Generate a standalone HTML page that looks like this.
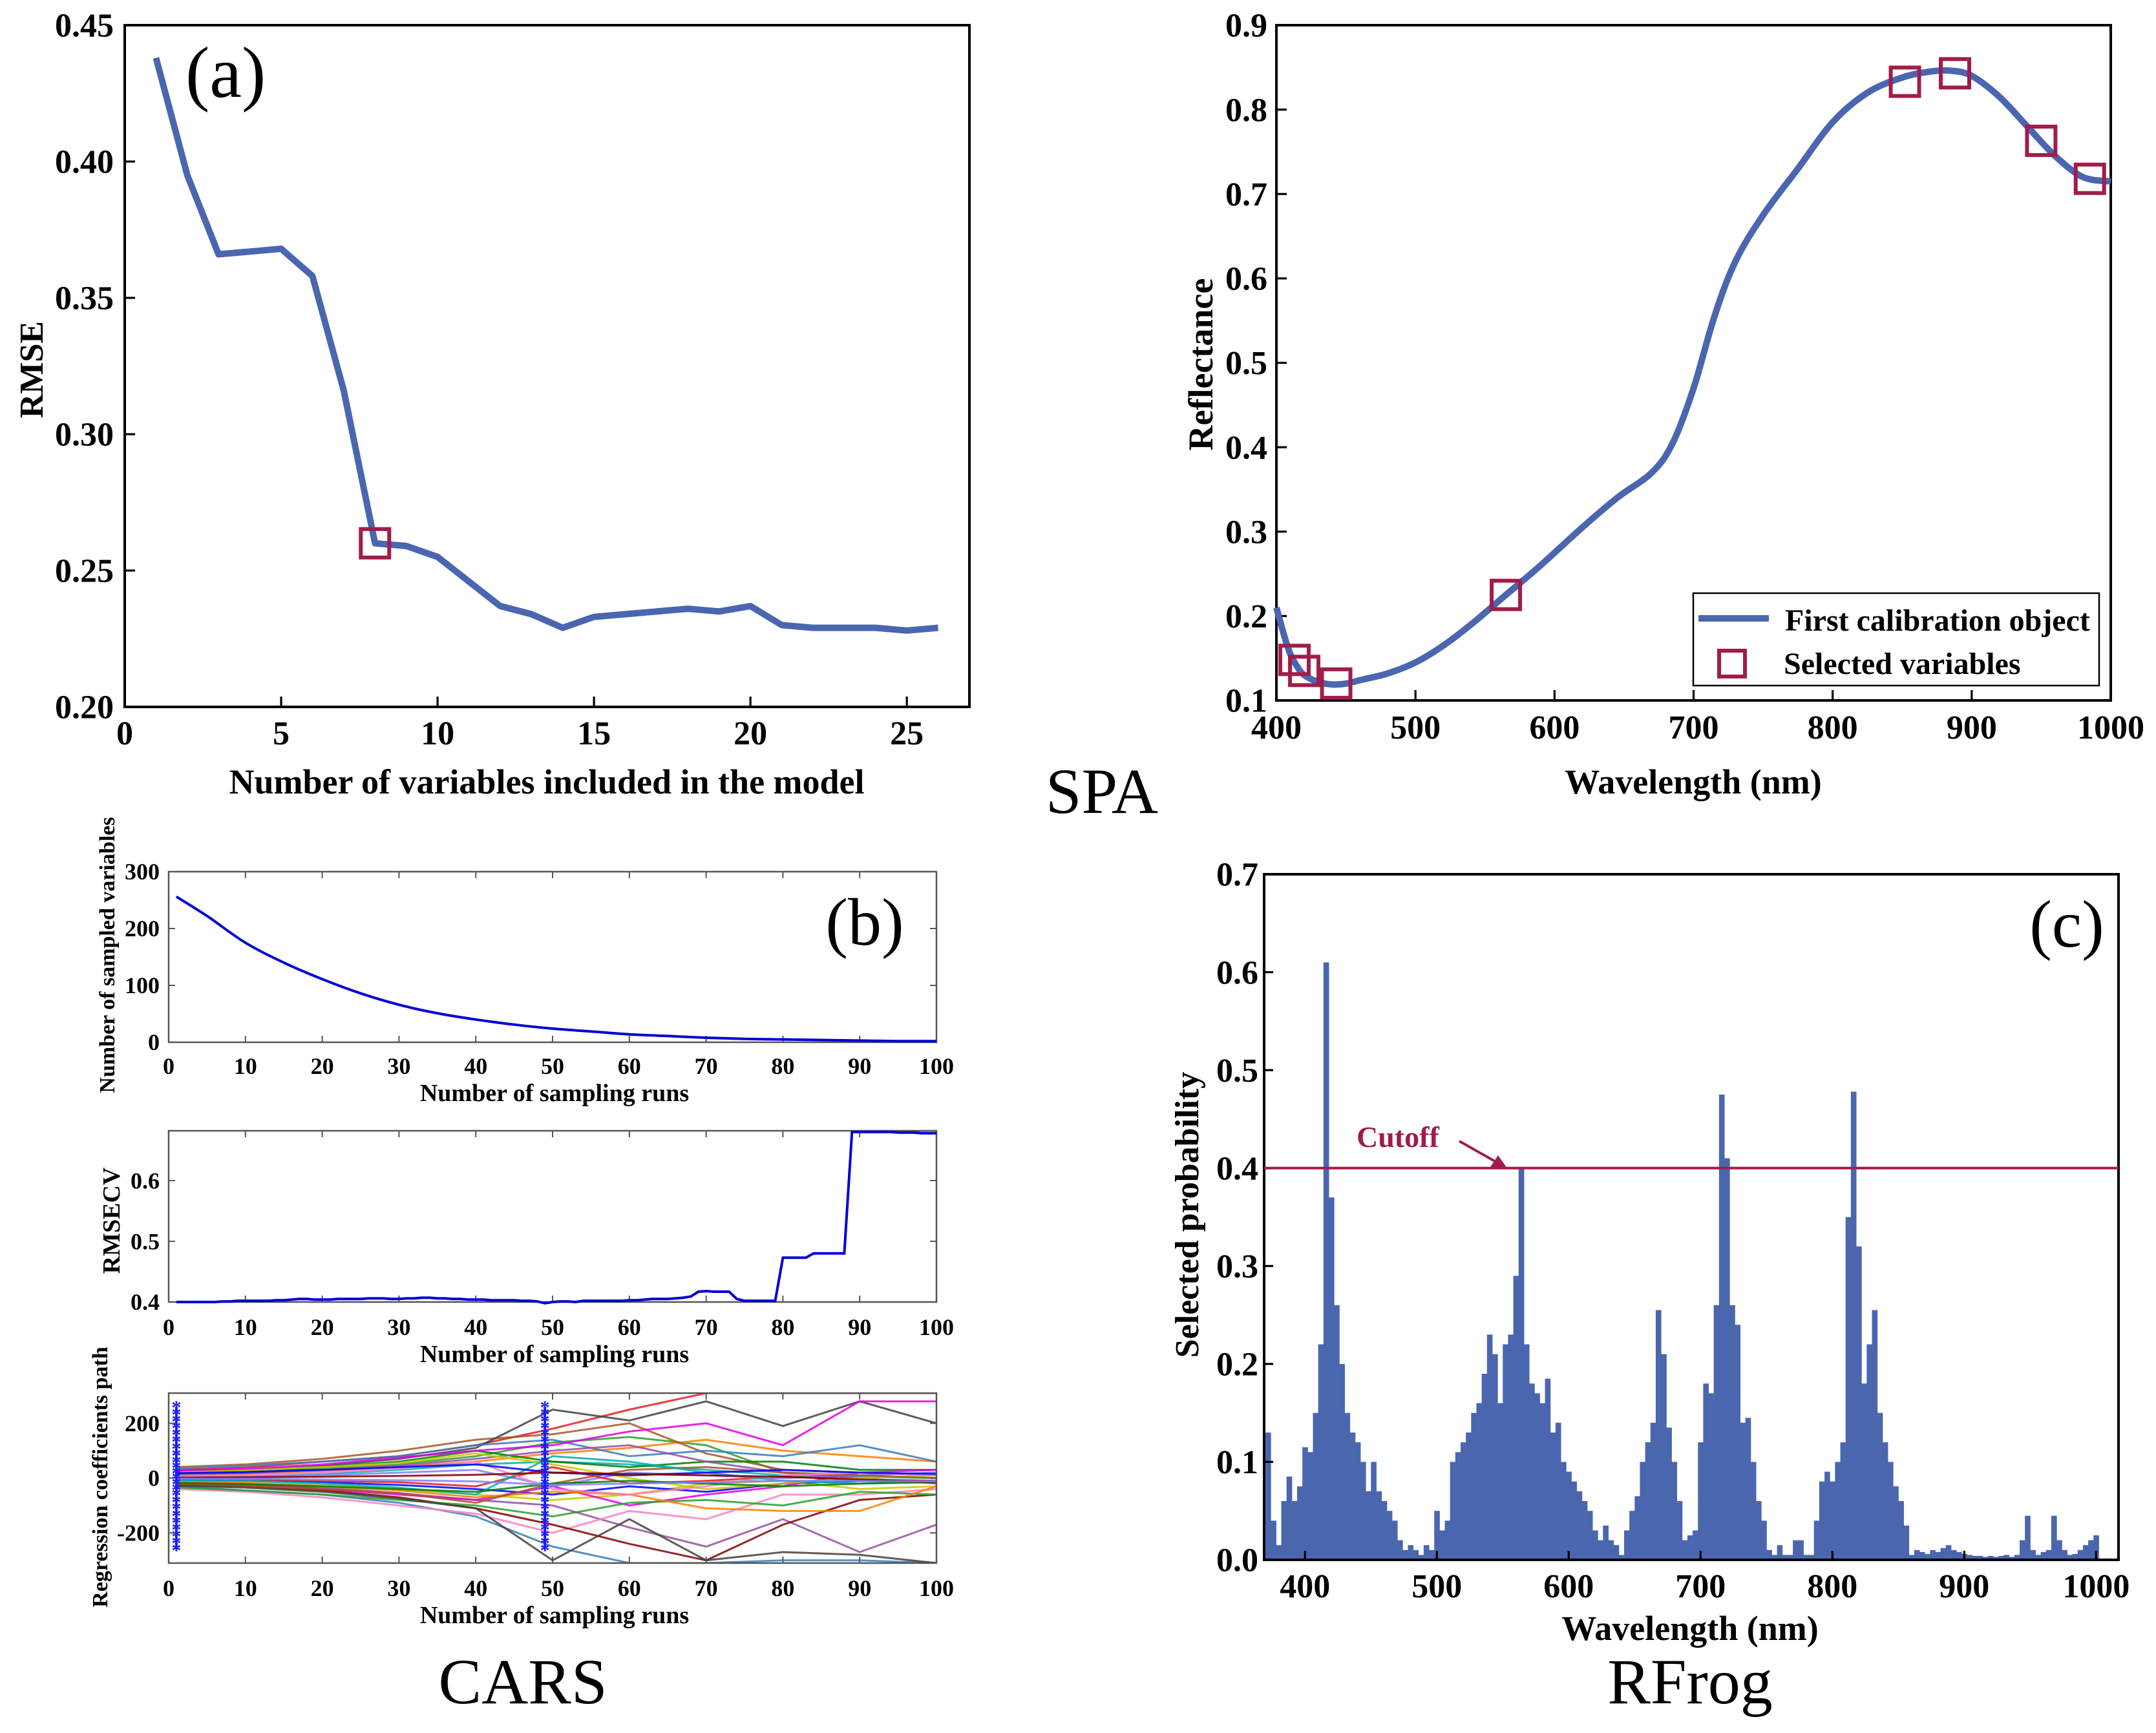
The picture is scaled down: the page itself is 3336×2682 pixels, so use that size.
<!DOCTYPE html>
<html><head><meta charset="utf-8"><style>
html,body{margin:0;padding:0;background:#fff;}
svg{display:block;font-family:"Liberation Serif",serif;}
text{font-family:"Liberation Serif",serif;}
</style></head><body>
<svg id="chart" xmlns="http://www.w3.org/2000/svg" width="3336" height="2682" viewBox="0 0 3336 2682">
<rect x="0" y="0" width="3336" height="2682" fill="#fff"/>
</svg>
<script>
// ---------- data ----------
const aX = [1,2,3,4,5,6,7,8,9,10,11,12,13,14,15,16,17,18,19,20,21,22,23,24,25,26];
const aRmse = [0.438,0.395,0.366,0.367,0.368,0.358,0.316,0.260,0.259,0.255,0.246,0.237,0.234,0.229,0.233,0.234,0.235,0.236,0.235,0.237,0.230,0.229,0.229,0.229,0.228,0.229];
const aSelX = [8];
const aSelY = [0.260];
const aXTicks = [0,5,10,15,20,25];
const aYTicks = [0.20,0.25,0.30,0.35,0.40,0.45];

const spaWl = [400,405,410,415,420,430,440,450,460,480,500,520,540,565,590,620,645,670,685,700,715,730,750,775,800,825,850,870,885,900,920,940,960,980,1000];
const spaRef = [0.21,0.18,0.155,0.14,0.13,0.122,0.119,0.12,0.124,0.132,0.145,0.165,0.19,0.225,0.26,0.305,0.34,0.37,0.405,0.47,0.555,0.62,0.675,0.73,0.785,0.82,0.838,0.845,0.846,0.84,0.815,0.78,0.745,0.72,0.715];
const spaSelWl = [413,420,443,565,852,888,950,985];
const spaSelRef = [0.148,0.135,0.12,0.225,0.833,0.843,0.763,0.718];
const spaXTicks = [400,500,600,700,800,900,1000];
const spaYTicks = [0.1,0.2,0.3,0.4,0.5,0.6,0.7,0.8,0.9];

const carsRunsN = [1,5,10,15,20,25,30,35,40,45,50,55,60,65,70,75,80,85,90,95,100];
const carsNVars = [256,222,175,140,111,86,66,51,40,31,24,19,14,11,8,6,5,4,3,2,2];
const carsRmsecv = [0.400,0.400,0.400,0.400,0.400,0.400,0.401,0.401,0.402,0.402,0.402,0.402,0.402,0.403,0.403,0.404,0.405,0.405,0.404,0.404,0.404,0.405,0.405,0.405,0.405,0.406,0.406,0.406,0.405,0.405,0.406,0.406,0.407,0.407,0.406,0.406,0.405,0.405,0.404,0.404,0.404,0.403,0.403,0.403,0.403,0.402,0.402,0.401,0.398,0.400,0.401,0.401,0.400,0.402,0.402,0.402,0.402,0.402,0.402,0.403,0.403,0.404,0.405,0.405,0.405,0.406,0.407,0.409,0.417,0.418,0.417,0.417,0.417,0.405,0.402,0.402,0.402,0.402,0.402,0.473,0.473,0.473,0.473,0.480,0.480,0.480,0.480,0.480,0.680,0.680,0.680,0.680,0.680,0.680,0.679,0.679,0.679,0.678,0.678,0.678];
const coefRuns = [1,10,20,30,40,50,60,70,80,90,100];
const coefPaths = [
 [30,40,60,80,120,180,250,310,310,310,310],
 [-30,-45,-60,-90,-140,-250,-310,-310,-300,-300,-310],
 [20,25,35,50,80,130,150,120,20,10,20],
 [-20,-25,-35,-55,-80,-100,-180,-250,-150,-270,-170],
 [10,15,25,40,60,90,110,140,100,80,60],
 [-10,-15,-25,-40,-60,-80,-60,-20,-10,-40,-30],
 [40,50,70,100,140,160,200,90,30,20,10],
 [-40,-50,-70,-100,-130,-200,-120,-150,-60,-60,-40],
 [5,8,15,30,50,60,50,30,10,5,0],
 [-5,-8,-15,-25,-40,-60,-30,-50,-20,-10,-10],
 [15,20,40,60,100,60,40,60,60,30,30],
 [-15,-20,-40,-60,-80,-30,-100,-60,-30,20,30],
 [25,30,45,70,110,250,210,280,190,280,200],
 [-25,-30,-45,-70,-110,-170,-240,-300,-170,-80,-60],
 [0,5,10,20,30,-30,20,10,0,10,20],
 [0,-5,-10,-15,-30,40,-20,-10,5,-5,-10],
 [35,45,60,80,120,140,80,100,80,120,60],
 [-35,-45,-60,-80,-100,-140,-90,-80,-100,-50,-60],
 [12,18,30,45,70,100,120,60,20,0,-20],
 [-12,-18,-30,-45,-70,-50,-60,-110,-120,-120,-30],
 [22,28,40,55,90,50,0,-40,-20,0,10],
 [-22,-28,-40,-55,-90,-20,30,40,20,10,0],
 [8,10,20,35,60,-40,-60,-30,10,20,10],
 [-8,-10,-20,-35,-60,80,60,20,-10,-20,-10],
 [18,22,30,40,50,20,10,20,30,20,15],
 [-18,-22,-30,-40,-50,-20,-10,-20,-30,-20,-15],
 [28,35,50,75,100,120,170,200,120,280,280],
 [-28,-35,-50,-75,-110,-300,-150,-300,-270,-280,-310],
 [2,3,5,8,12,20,15,10,5,-5,-15],
 [-2,-3,-5,-8,-12,-25,-20,-15,-10,-10,-12]
];
const coefStarRuns = [1,49];
const coefStarVals = [-260,-235,-210,-185,-160,-135,-110,-85,-60,-40,-20,0,20,40,60,85,110,135,160,185,210,235,260];
const carsXTicks = [0,10,20,30,40,50,60,70,80,90,100];
const carsY1Ticks = [0,100,200,300];
const carsY2Ticks = [0.4,0.5,0.6];
const carsY3Ticks = [-200,0,200];

const rfWl = [370,374,378,382,386,390,394,398,402,406,410,414,418,422,426,430,434,438,442,446,450,454,458,462,466,470,474,478,482,486,490,494,498,502,506,510,514,518,522,526,530,534,538,542,546,550,554,558,562,566,570,574,578,582,586,590,594,598,602,606,610,614,618,622,626,630,634,638,642,646,650,654,658,662,666,670,674,678,682,686,690,694,698,702,706,710,714,718,722,726,730,734,738,742,746,750,754,758,762,766,770,774,778,782,786,790,794,798,802,806,810,814,818,822,826,830,834,838,842,846,850,854,858,862,866,870,874,878,882,886,890,894,898,902,906,910,914,918,922,926,930,934,938,942,946,950,954,958,962,966,970,974,978,982,986,990,994,998,1002,1006,1010,1014];
const rfProb = [0.13,0.04,0.015,0.06,0.085,0.06,0.075,0.115,0.11,0.15,0.22,0.61,0.37,0.26,0.2,0.15,0.13,0.12,0.1,0.07,0.1,0.07,0.06,0.05,0.04,0.02,0.01,0.015,0.01,0.005,0.015,0.01,0.05,0.03,0.04,0.1,0.11,0.12,0.13,0.15,0.16,0.19,0.23,0.21,0.16,0.22,0.23,0.29,0.40,0.22,0.18,0.17,0.16,0.185,0.13,0.14,0.1,0.09,0.08,0.07,0.06,0.05,0.03,0.02,0.035,0.02,0.015,0.005,0.03,0.05,0.065,0.1,0.12,0.14,0.255,0.21,0.135,0.1,0.06,0.02,0.025,0.03,0.12,0.18,0.17,0.26,0.475,0.41,0.26,0.24,0.14,0.145,0.1,0.06,0.04,0.01,0.005,0.015,0.005,0.005,0.02,0.02,0.005,0.005,0.04,0.08,0.09,0.08,0.1,0.12,0.35,0.478,0.32,0.18,0.22,0.255,0.15,0.12,0.1,0.075,0.06,0.035,0.005,0.01,0.008,0.006,0.01,0.008,0.012,0.015,0.01,0.008,0.006,0.005,0.004,0.004,0.003,0.004,0.003,0.004,0.005,0.003,0.005,0.02,0.045,0.01,0.005,0.008,0.01,0.045,0.02,0.01,0.005,0.006,0.01,0.015,0.02,0.025];
const rfCutoff = [0.4];
const rfXTicks = [400,500,600,700,800,900,1000];
const rfYTicks = [0.0,0.1,0.2,0.3,0.4,0.5,0.6,0.7];

// ---------- helpers ----------
const NS = "http://www.w3.org/2000/svg";
const svg = document.getElementById('chart');
function mk(tag, attrs, parent){
  const e = document.createElementNS(NS, tag);
  for (const k in attrs) e.setAttribute(k, attrs[k]);
  (parent || svg).appendChild(e);
  return e;
}
function scale(d0,d1,r0,r1){ return v => r0 + (v-d0)/(d1-d0)*(r1-r0); }
function txt(x,y,s,size,anchor,weight,parent,extra){
  const t = mk('text', Object.assign({x:x,y:y,'font-size':size,'text-anchor':anchor||'middle','font-weight':weight||'bold',fill:'#000','font-family':'Liberation Serif, serif'}, extra||{}), parent);
  t.textContent = s;
  return t;
}
function fmt(v,d){ return v.toFixed(d); }

function axes(g, box, xs, ys, xt, yt, xd, yd, fs, tickLen, frameW, frameCol, xlabY, ylabX, yIn){
  const fr = mk('rect',{x:box.x0,y:box.y0,width:box.x1-box.x0,height:box.y1-box.y0,fill:'none',stroke:frameCol,'stroke-width':frameW},g);
  
  
  xt.forEach(v=>{
    const x = xs(v);
    const t1 = mk('line',{x1:x,y1:box.y1,x2:x,y2:box.y1-tickLen,stroke:frameCol,'stroke-width':frameW*0.8},g);
    
    
    if (yIn) {
      const t2 = mk('line',{x1:x,y1:box.y0,x2:x,y2:box.y0+tickLen,stroke:frameCol,'stroke-width':frameW*0.8},g);
      
      
    }
    const l = txt(x,xlabY,fmt(v,xd),fs,'middle','bold',g);
    
    
  });
  yt.forEach(v=>{
    const y = ys(v);
    const t1 = mk('line',{x1:box.x0,y1:y,x2:box.x0+tickLen,y2:y,stroke:frameCol,'stroke-width':frameW*0.8},g);
    
    
    if (yIn) {
      const t2 = mk('line',{x1:box.x1,y1:y,x2:box.x1-tickLen,y2:y,stroke:frameCol,'stroke-width':frameW*0.8},g);
      
      
    }
    const l = txt(ylabX,y+fs*0.34,fmt(v,yd),fs,'end','bold',g);
    
    
  });
}
function poly(xsArr, ysArr, xs, ys){
  return xsArr.map((v,i)=>xs(v).toFixed(1)+','+ys(ysArr[i]).toFixed(1)).join(' ');
}
function smoothPath(xsArr, ysArr, xs, ys){
  const p = xsArr.map((v,i)=>[xs(v), ys(ysArr[i])]);
  let d = 'M'+p[0][0].toFixed(1)+','+p[0][1].toFixed(1);
  for (let i=0;i<p.length-1;i++){
    const p0=p[Math.max(i-1,0)], p1=p[i], p2=p[i+1], p3=p[Math.min(i+2,p.length-1)];
    const c1=[p1[0]+(p2[0]-p0[0])/6, p1[1]+(p2[1]-p0[1])/6];
    const c2=[p2[0]-(p3[0]-p1[0])/6, p2[1]-(p3[1]-p1[1])/6];
    d += ' C'+c1[0].toFixed(1)+','+c1[1].toFixed(1)+' '+c2[0].toFixed(1)+','+c2[1].toFixed(1)+' '+p2[0].toFixed(1)+','+p2[1].toFixed(1);
  }
  return d;
}

// ---------- panel (a) ----------
(function(){
  const g = mk('g',{});
  
  
  const box = {x0:193,x1:1500,y0:39,y1:1094};
  const xs = scale(0,27,box.x0,box.x1), ys = scale(0.20,0.45,box.y1,box.y0);
  axes(g,box,xs,ys,aXTicks,aYTicks,0,2,52,16,4,'#000',1152,176,false);
  const ln = mk('polyline',{points:poly(aX,aRmse,xs,ys),fill:'none',stroke:'#4a66b0','stroke-width':10,'stroke-linejoin':'round'},g);
  
  
  aSelX.forEach((v,i)=>{
    const m = mk('rect',{x:xs(v)-22,y:ys(aSelY[i])-22,width:44,height:44,fill:'none',stroke:'#a01c4c','stroke-width':6},g);
    
    
  });
  let t = txt(287,150,'(a)',112,'start','normal',g);
  
  
  t = txt(846,1228,'Number of variables included in the model',54,'middle','bold',g);
  
  
  t = txt(0,0,'RMSE',52,'middle','bold',g,{transform:'translate(66,572) rotate(-90)'});
  
  
})();

// ---------- SPA ----------
(function(){
  const g = mk('g',{});
  
  
  const box = {x0:1975,x1:3266,y0:39,y1:1084};
  const xs = scale(400,1000,box.x0,box.x1), ys = scale(0.1,0.9,box.y1,box.y0);
  axes(g,box,xs,ys,spaXTicks,spaYTicks,0,1,52,16,4,'#000',1143,1961,false);
  const ln = mk('path',{d:smoothPath(spaWl,spaRef,xs,ys),fill:'none',stroke:'#4a66b0','stroke-width':10,'stroke-linejoin':'round'},g);
  
  
  spaSelWl.forEach((v,i)=>{
    const m = mk('rect',{x:xs(v)-22,y:ys(spaSelRef[i])-22,width:44,height:44,fill:'none',stroke:'#a01c4c','stroke-width':6},g);
    
    
  });
  const lg = mk('g',{},g);
  
  
  const lb = mk('rect',{x:2620,y:918,width:628,height:143,fill:'#fff',stroke:'#000','stroke-width':2.5},lg);
  
  
  const l1 = mk('line',{x1:2628,y1:957,x2:2737,y2:957,stroke:'#4a66b0','stroke-width':10},lg);
  
  
  let t = txt(2762,976,'First calibration object',48,'start','bold',lg);
  
  
  const s = mk('rect',{x:2660,y:1007,width:40,height:40,fill:'none',stroke:'#a01c4c','stroke-width':6},lg);
  
  
  t = txt(2760,1043,'Selected variables',48,'start','bold',lg);
  
  
  t = txt(2620,1228,'Wavelength (nm)',54,'middle','bold',g);
  
  
  t = txt(0,0,'Reflectance',54,'middle','bold',g,{transform:'translate(1876,564) rotate(-90)'});
  
  
  t = txt(1705,1258,'SPA',100,'middle','normal',g);
  
  
})();

// ---------- CARS ----------
(function(){
  const g = mk('g',{});
  
  
  const X0=261, X1=1449;
  const xs = scale(0,100,X0,X1);
  let box = {x0:X0,x1:X1,y0:1349,y1:1613};
  let ys = scale(0,300,box.y1,box.y0);
  axes(g,box,xs,ys,carsXTicks,carsY1Ticks,0,0,36,10,2.5,'#555',1662,247,true);
  let ln = mk('path',{d:smoothPath(carsRunsN,carsNVars,xs,ys),fill:'none',stroke:'#0000d8','stroke-width':4},g);
  
  
  let t = txt(858,1704,'Number of sampling runs',38,'middle','bold',g);
  
  
  t = txt(0,0,'Number of sampled variables',34,'middle','bold',g,{transform:'translate(177,1478) rotate(-90)'});
  
  
  t = txt(1338,1462,'(b)',104,'middle','normal',g);
  
  
  box = {x0:X0,x1:X1,y0:1750,y1:2015};
  ys = scale(0.4,0.682,box.y1,box.y0);
  axes(g,box,xs,ys,carsXTicks,carsY2Ticks,0,1,36,10,2.5,'#555',2066,247,true);
  const runs = carsRmsecv.map((v,i)=>i+1);
  ln = mk('polyline',{points:poly(runs,carsRmsecv,xs,ys),fill:'none',stroke:'#0000d8','stroke-width':4},g);
  
  
  t = txt(858,2108,'Number of sampling runs',38,'middle','bold',g);
  
  
  t = txt(0,0,'RMSECV',38,'middle','bold',g,{transform:'translate(185,1889) rotate(-90)'});
  
  
  box = {x0:X0,x1:X1,y0:2156,y1:2419};
  ys = scale(-310,310,box.y1,box.y0);
  const cols = ['#e41a1c','#377eb8','#2ca02c','#984ea3','#ff7f00','#c8c800','#a65628','#f781bf','#00b0b0','#0000ff','#008000','#e000e0','#404040','#800000','#7f7fff'];
  const clip = mk('clipPath',{id:'coefclip'},g);
  mk('rect',{x:box.x0,y:box.y0,width:box.x1-box.x0,height:box.y1-box.y0},clip);
  const cg = mk('g',{'clip-path':'url(#coefclip)'},g);
  
  
  coefPaths.forEach((p,i)=>{
    const pl = mk('polyline',{points:poly(coefRuns,p,xs,ys),fill:'none',stroke:cols[i%cols.length],'stroke-width':3,opacity:0.85},cg);
    
    
  });
  coefStarRuns.forEach(r=>{
    coefStarVals.forEach(v=>{
      const st = txt(xs(r),ys(v)+11,'*',30,'middle','bold',cg,{fill:'#1a1aff'});
      
      
    });
    const vl = mk('line',{x1:xs(r),y1:ys(coefStarVals[0]),x2:xs(r),y2:ys(coefStarVals[coefStarVals.length-1]),stroke:'#1a1aff','stroke-width':4},cg);
    
    
  });
  axes(g,box,xs,ys,carsXTicks,carsY3Ticks,0,0,36,10,2.5,'#555',2470,247,true);
  t = txt(858,2512,'Number of sampling runs',38,'middle','bold',g);
  
  
  t = txt(0,0,'Regression coefficients path',34,'middle','bold',g,{transform:'translate(166,2286) rotate(-90)'});
  
  
  t = txt(809,2636,'CARS',100,'middle','normal',g);
  
  
})();

// ---------- RFrog ----------
(function(){
  const g = mk('g',{});
  
  
  const box = {x0:1956,x1:3278,y0:1353,y1:2414};
  const xs = scale(369,1017,box.x0,box.x1), ys = scale(0,0.7,box.y1,box.y0);
  const bw = xs(374)-xs(370);
  rfWl.forEach((w,i)=>{
    const y = ys(rfProb[i]);
    const b = mk('rect',{x:xs(w),y:y,width:bw+0.5,height:box.y1-y,fill:'#4a66ae'},g);
    
    
  });
  axes(g,box,xs,ys,rfXTicks,rfYTicks,0,1,52,14,4,'#000',2472,1947,false);
  rfCutoff.forEach(c=>{
    const cl = mk('line',{x1:box.x0,y1:ys(c),x2:box.x1,y2:ys(c),stroke:'#a01c4c','stroke-width':4},g);
    
    
  });
  let t = txt(2099,1775,'Cutoff',46,'start','bold',g,{fill:'#a01c4c'});
  
  
  const ar = mk('line',{x1:2258,y1:1766,x2:2318,y2:1800,stroke:'#a01c4c','stroke-width':4},g);
  
  
  const ah = mk('polygon',{points:'2332,1808 2306,1806 2318,1788',fill:'#a01c4c'},g);
  
  
  t = txt(3198,1465,'(c)',104,'middle','normal',g);
  
  
  t = txt(2615,2538,'Wavelength (nm)',54,'middle','bold',g);
  
  
  t = txt(0,0,'Selected probability',52,'middle','bold',g,{transform:'translate(1854,1880) rotate(-90)'});
  
  
  t = txt(2615,2636,'RFrog',100,'middle','normal',g);
  
  
})();
</script>
</body></html>
